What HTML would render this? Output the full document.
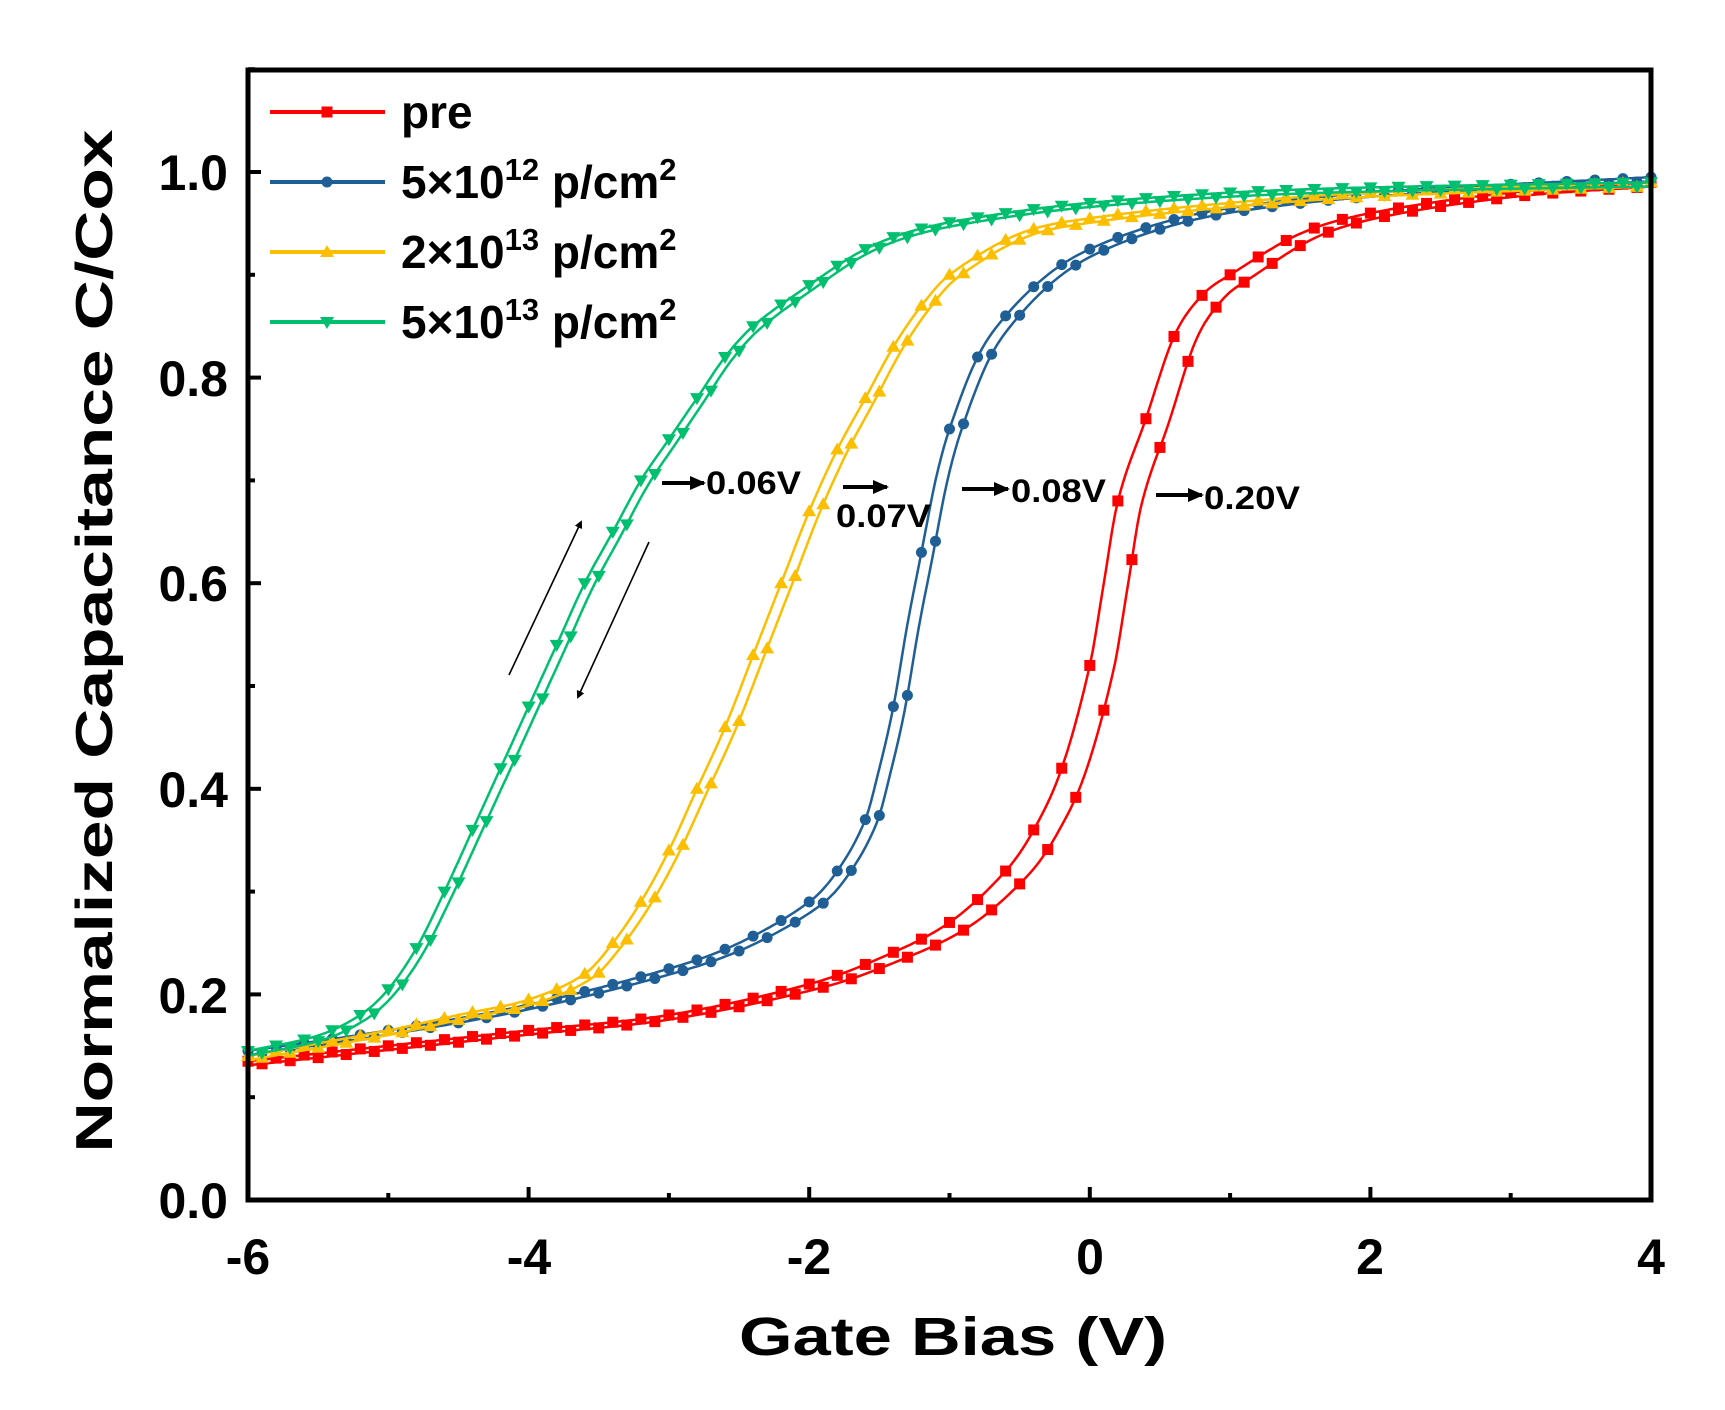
<!DOCTYPE html>
<html><head><meta charset="utf-8"><style>
html,body{margin:0;padding:0;background:#fff;}
svg{display:block;font-family:"Liberation Sans",Arial,sans-serif;font-weight:bold;}
</style></head><body>
<svg id="s" width="1725" height="1410" viewBox="0 0 1725 1410" xmlns="http://www.w3.org/2000/svg">
<g id="curves"></g>
<rect x="248" y="70" width="1403" height="1130" fill="none" stroke="#000" stroke-width="5"/>
<g id="ticks" stroke="#000" stroke-width="4"></g>
<g font-size="50" text-anchor="end">
<text x="228" y="1218">0.0</text><text x="228" y="1013">0.2</text><text x="228" y="807">0.4</text>
<text x="228" y="601">0.6</text><text x="228" y="396">0.8</text><text x="228" y="190">1.0</text>
</g>
<g font-size="50" text-anchor="middle">
<text x="248" y="1274">-6</text><text x="529" y="1274">-4</text><text x="809" y="1274">-2</text>
<text x="1090" y="1274">0</text><text x="1370" y="1274">2</text><text x="1651" y="1274">4</text>
</g>
<text x="953" y="1355" font-size="54" text-anchor="middle" textLength="428" lengthAdjust="spacingAndGlyphs">Gate Bias (V)</text>
<text transform="translate(112,641) rotate(-90)" font-size="52" text-anchor="middle" textLength="1023" lengthAdjust="spacingAndGlyphs">Normalized Capacitance C/Cox</text>
<g id="legend"></g>
<g font-size="46">
<text x="401" y="128">pre</text>
<text x="401" y="198">5×10<tspan font-size="31" dy="-18">12</tspan><tspan dy="18"> p/cm</tspan><tspan font-size="31" dy="-18">2</tspan></text>
<text x="401" y="268">2×10<tspan font-size="31" dy="-18">13</tspan><tspan dy="18"> p/cm</tspan><tspan font-size="31" dy="-18">2</tspan></text>
<text x="401" y="338">5×10<tspan font-size="31" dy="-18">13</tspan><tspan dy="18"> p/cm</tspan><tspan font-size="31" dy="-18">2</tspan></text>
</g>
<defs><marker id="ah" markerWidth="8" markerHeight="8" refX="6" refY="4" orient="auto" markerUnits="userSpaceOnUse"><path d="M0,0 L8,4 L0,8z" fill="#000"/></marker>
<marker id="ab" markerWidth="16" markerHeight="14" refX="14" refY="7" orient="auto" markerUnits="userSpaceOnUse"><path d="M0,0 L16,7 L0,14z" fill="#000"/></marker></defs>
<g stroke="#000" stroke-width="4">
<line x1="662" y1="483" x2="704" y2="483" marker-end="url(#ab)"/>
<line x1="843" y1="487" x2="887" y2="487" marker-end="url(#ab)"/>
<line x1="962" y1="489" x2="1008" y2="489" marker-end="url(#ab)"/>
<line x1="1156" y1="495" x2="1202" y2="495" marker-end="url(#ab)"/>
</g>
<g stroke="#000" stroke-width="1.6">
<line x1="509" y1="675" x2="581" y2="522" marker-end="url(#ah)"/>
<line x1="649" y1="542" x2="578" y2="697" marker-end="url(#ah)"/>
</g>
<g font-size="32">
<text x="706" y="494" textLength="95" lengthAdjust="spacingAndGlyphs">0.06V</text>
<text x="836" y="527" textLength="95" lengthAdjust="spacingAndGlyphs">0.07V</text>
<text x="1011" y="502" textLength="95" lengthAdjust="spacingAndGlyphs">0.08V</text>
<text x="1204" y="509" textLength="96" lengthAdjust="spacingAndGlyphs">0.20V</text>
</g>
</svg>
<script>
var X=function(v){return 248+(v+6)*140.3;},Y=function(c){return 1200-c*1028;};
var NS="http://www.w3.org/2000/svg";
function el(t,a,p){var e=document.createElementNS(NS,t);for(var k in a)e.setAttribute(k,a[k]);p.appendChild(e);return e;}
var tk=document.getElementById('ticks');
for(var i=0;i<=11;i++){var y=Y(i*0.1);var L=(i%2==0)?13:7;el('line',{x1:248,y1:y,x2:248+L,y2:y},tk);}
for(var v=-6;v<=4;v++){var x=X(v);var L=(v%2==0)?13:7;el('line',{x1:x,y1:1200,x2:x,y2:1200-L},tk);}
function interp(p,v){var n=p.length;if(v<=p[0][0])return p[0][1];if(v>=p[n-1][0])return p[n-1][1];
 var i=1;while(p[i][0]<v)i++;var a=p[i-1],b=p[i];
 function sl(j){var l=p[Math.max(j-1,0)],r=p[Math.min(j+1,n-1)];return (r[1]-l[1])/(r[0]-l[0]);}
 var h=b[0]-a[0],t=(v-a[0])/h,m0=sl(i-1)*h,m1=sl(i)*h,t2=t*t,t3=t2*t;
 return (2*t3-3*t2+1)*a[1]+(t3-2*t2+t)*m0+(-2*t3+3*t2)*b[1]+(t3-t2)*m1;}
var S=[
{c:'#f00',m:'sq',d:0.17,mid:0.1,p:[[-6,0.135],[-5,0.15],[-4,0.165],[-3,0.18],[-2,0.21],[-1.5,0.235],[-1,0.27],[-0.6,0.32],[-0.4,0.36],[-0.2,0.42],[0,0.52],[0.1,0.6],[0.2,0.68],[0.4,0.76],[0.6,0.84],[0.8,0.88],[1,0.9],[1.5,0.94],[2,0.96],[3,0.98],[4,0.99]]},
{c:'#1f5f96',m:'ci',d:0.08,mid:-1.3,p:[[-6,0.145],[-5,0.165],[-4,0.19],[-3,0.225],[-2.5,0.25],[-2,0.29],[-1.8,0.32],[-1.6,0.37],[-1.5,0.42],[-1.4,0.48],[-1.3,0.56],[-1.2,0.63],[-1.1,0.7],[-1,0.75],[-0.8,0.82],[-0.6,0.86],[-0.3,0.9],[0,0.925],[0.5,0.95],[1,0.965],[2,0.98],[4,0.995]]},
{c:'#fbbf00',m:'tu',d:0.07,mid:-2.4,p:[[-6,0.14],[-5,0.165],[-4.5,0.18],[-4,0.195],[-3.6,0.22],[-3.4,0.25],[-3.2,0.29],[-3,0.34],[-2.8,0.40],[-2.6,0.46],[-2.4,0.53],[-2.2,0.6],[-2,0.67],[-1.8,0.73],[-1.6,0.78],[-1.4,0.83],[-1.2,0.87],[-1,0.9],[-0.5,0.94],[0,0.955],[1,0.97],[2,0.98],[4,0.99]]},
{c:'#00c070',m:'td',d:0.06,mid:-3.9,p:[[-6,0.145],[-5.5,0.16],[-5.2,0.18],[-5,0.205],[-4.8,0.245],[-4.6,0.3],[-4.4,0.36],[-4.2,0.42],[-4,0.48],[-3.8,0.54],[-3.6,0.6],[-3.4,0.65],[-3.2,0.7],[-3,0.74],[-2.8,0.78],[-2.6,0.82],[-2.4,0.85],[-2,0.89],[-1.6,0.925],[-1.2,0.945],[-0.6,0.96],[0,0.97],[1,0.98],[2,0.985],[4,0.99]]}
];
function marker(m,x,y,c,g){
 if(m=='sq')el('rect',{x:x-5.5,y:y-5.5,width:11,height:11,fill:c},g);
 else if(m=='ci')el('circle',{cx:x,cy:y,r:5.5,fill:c},g);
 else if(m=='tu')el('path',{d:'M'+x+','+(y-7)+' L'+(x+7)+','+(y+5)+' L'+(x-7)+','+(y+5)+'z',fill:c},g);
 else el('path',{d:'M'+x+','+(y+7)+' L'+(x+7)+','+(y-5)+' L'+(x-7)+','+(y-5)+'z',fill:c},g);
}
var cg=document.getElementById('curves');
S.forEach(function(s){
 [0,1].forEach(function(b){
  var pts=[],mk=[];
  for(var k=0;k<=500;k++){var v=-6+k*0.02;
   var w=Math.exp(-Math.pow((v-s.mid)/2.2,2));
   var vv=v-(b?s.d*w:0);
   var c=interp(s.p,vv)-(b?0.004:0);
   pts.push(X(v).toFixed(1)+','+Y(c).toFixed(1));
   if(k%10==(b?5:0))mk.push([X(v),Y(c)]);}
  el('polyline',{points:pts.join(' '),fill:'none',stroke:s.c,'stroke-width':2.5},cg);
  mk.forEach(function(q){marker(s.m,q[0],q[1],s.c,cg);});
 });
});
var lg=document.getElementById('legend');
S.forEach(function(s,i){var y=112+i*70;el('line',{x1:270,y1:y,x2:385,y2:y,stroke:s.c,'stroke-width':4},lg);marker(s.m,327,y,s.c,lg);});
</script>
</body></html>
